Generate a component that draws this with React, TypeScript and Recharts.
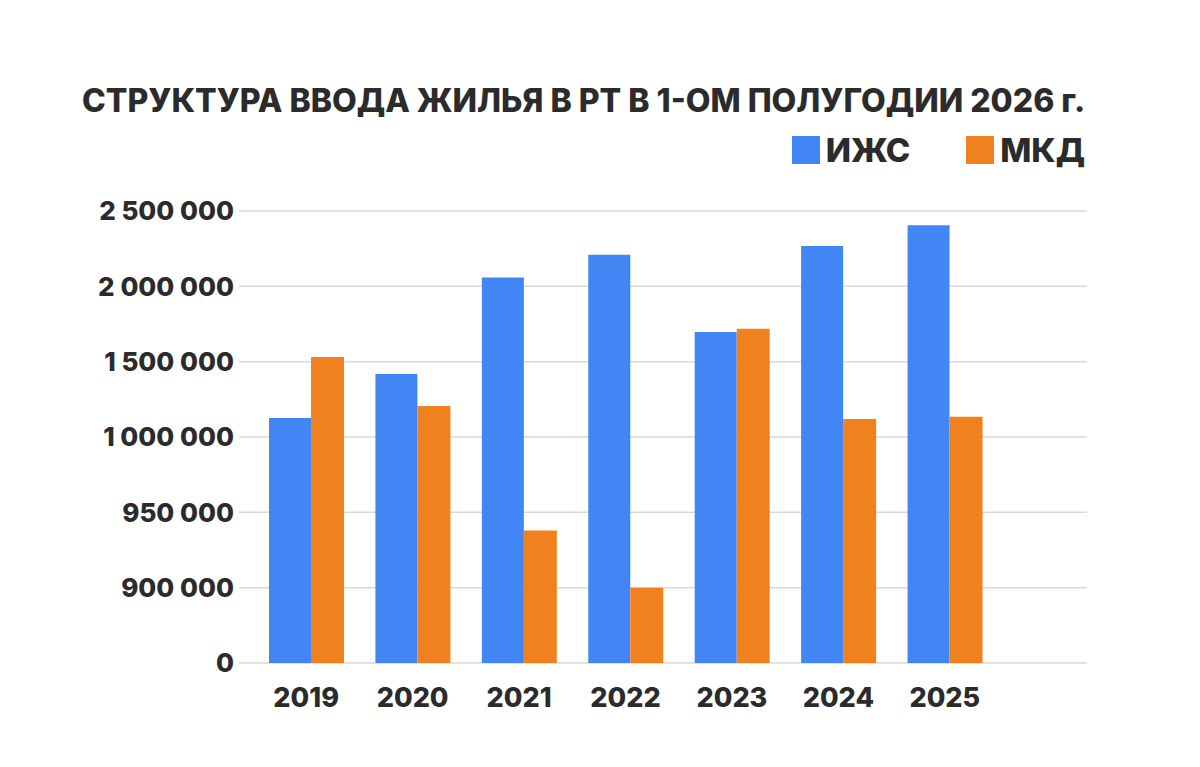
import { BarChart, Bar, XAxis, YAxis, CartesianGrid } from 'recharts';

const YEARS = ['2019', '2020', '2021', '2022', '2023', '2024', '2025'];
const IZHS = [1126000, 1418000, 2058000, 2210000, 1697000, 2268000, 2405000];
const MKD = [1531000, 1206000, 938000, 900000, 1719000, 1119000, 1135000];

// the source axis is not linear: its ticks sit at equal steps
const Y_TICKS = [0, 900000, 950000, 1000000, 1500000, 2000000, 2500000];
const Y_LABELS = ['0', '900 000', '950 000', '1 000 000', '1 500 000', '2 000 000', '2 500 000'];

const BLUE = '#4285f4';
const ORANGE = '#ef821e';
const INK = '#2b2b2b';
const FONT = 'Inter, "Open Sans", sans-serif';

// value -> position on the stepped axis (piecewise linear between ticks)
const toAxis = (v: number) => {
  for (let i = 0; i < Y_TICKS.length - 1; i++) {
    if (v <= Y_TICKS[i + 1]) return i + (v - Y_TICKS[i]) / (Y_TICKS[i + 1] - Y_TICKS[i]);
  }
  return Y_TICKS.length - 1;
};

const data = YEARS.map((year, i) => ({ year, izhs: IZHS[i], mkd: MKD[i] }));

const LegendItem = ({ color, label }: { color: string; label: string }) => (
  <span style={{ display: 'flex', alignItems: 'center', gap: 6 }}>
    <span style={{ width: 28, height: 28, background: color, display: 'inline-block' }} />
    <span>{label}</span>
  </span>
);

export default function App() {
  return (
    <div style={{ position: 'absolute', left: 0, top: 0, width: 1200, height: 767, background: '#fff', fontFamily: FONT, color: INK }}>
      <div style={{ position: 'absolute', left: 82, top: 81, fontSize: 32, fontWeight: 800, whiteSpace: 'nowrap' }}>
        СТРУКТУРА ВВОДА ЖИЛЬЯ В РТ В 1-ОМ ПОЛУГОДИИ 2026 г.
      </div>
      <div style={{ position: 'absolute', right: 115, top: 130, fontSize: 33, fontWeight: 800, display: 'flex', gap: 56 }}>
        <LegendItem color={BLUE} label="ИЖС" />
        <LegendItem color={ORANGE} label="МКД" />
      </div>
      <BarChart
        width={1200}
        height={767}
        data={data}
        margin={{ top: 211, right: 113, bottom: 44, left: 39 }}
        barGap={0}
      >
        <CartesianGrid vertical={false} stroke="#d9d9d9" strokeWidth={1.5} />
        <XAxis
          dataKey="year"
          height={60}
          axisLine={false}
          tickLine={false}
          tickSize={0}
          tickMargin={25}
          padding={{ left: 14, right: 89 }}
          tick={{ fill: INK, fontSize: 27, fontWeight: 800, fontFamily: FONT }}
        />
        <YAxis
          width={200}
          type="number"
          domain={[0, 6]}
          ticks={[0, 1, 2, 3, 4, 5, 6]}
          tickFormatter={(i: number) => Y_LABELS[i]}
          axisLine={false}
          tickLine={false}
          tickSize={0}
          tickMargin={5}
          tick={{ fill: INK, fontSize: 26, fontWeight: 800, fontFamily: FONT }}
        />
        <Bar dataKey={(d: any) => toAxis(d.izhs)} name="ИЖС" fill={BLUE} barSize={42} isAnimationActive={false} />
        <Bar dataKey={(d: any) => toAxis(d.mkd)} name="МКД" fill={ORANGE} barSize={33} isAnimationActive={false} />
      </BarChart>
    </div>
  );
}
